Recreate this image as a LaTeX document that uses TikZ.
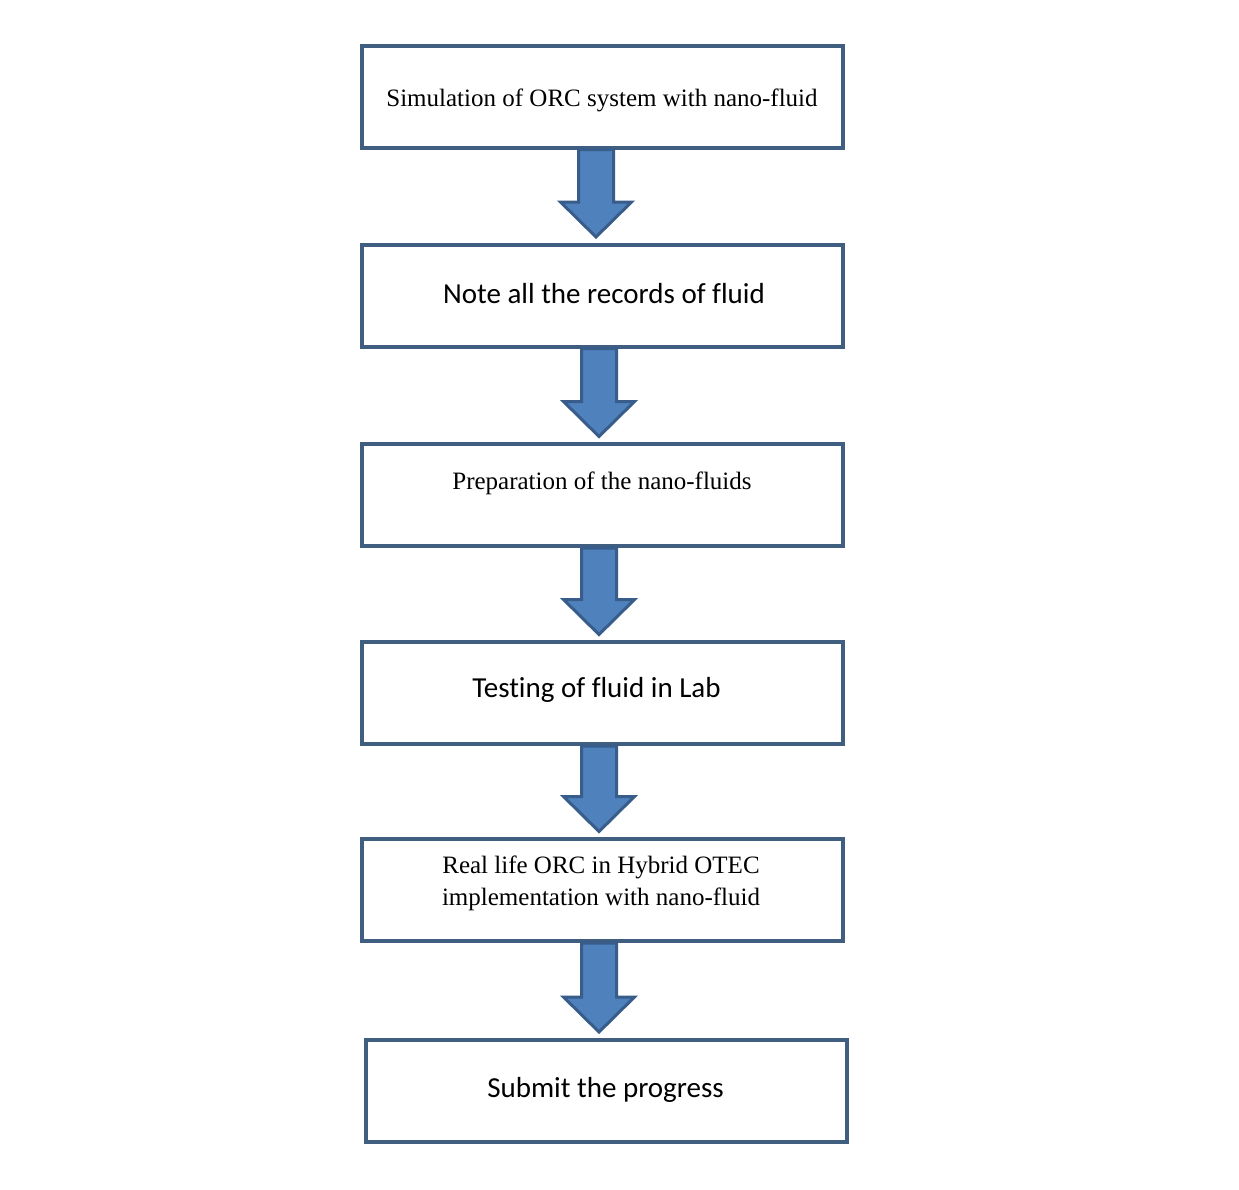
\documentclass[tikz,border=0pt]{standalone}
\usepackage{fontspec}
\usetikzlibrary{calc}
\newfontfamily\serifface[Ligatures={NoCommon,NoRare}]{Liberation Serif}
\newfontfamily\sansface[Ligatures={NoCommon,NoRare}]{Carlito}
\definecolor{boxline}{RGB}{63,94,128}
\definecolor{arrowfill}{RGB}{79,129,189}
\definecolor{arrowline}{RGB}{56,93,138}

% Block arrow between two stacked boxes: #1 upper box, #2 lower box, #3 centre x (pt)
\newcommand{\downblock}[3]{%
  \path[blockarrow] let \p1=(#1.south), \p2=(#2.north) in
    (#3pt-17.5pt,\y1) -- (#3pt-17.5pt,\y2+40.5pt) -- (#3pt-35.5pt,\y2+40.5pt)
    -- (#3pt,\y2+5.5pt) -- (#3pt+35.5pt,\y2+40.5pt) -- (#3pt+17.5pt,\y2+40.5pt)
    -- (#3pt+17.5pt,\y1) -- cycle;}

\tikzset{
  stepbox/.style={draw=boxline, line width=4pt, fill=white, rectangle,
    minimum width=481pt, minimum height=102pt, inner sep=0pt},
  blockarrow/.style={fill=arrowfill, draw=arrowline, line width=3pt, line join=miter},
  serifrm/.style={font=\serifface\fontsize{25}{32}\selectfont, inner sep=0pt, anchor=base},
  sanstxt/.style={font=\sansface\fontsize{29}{35}\selectfont, inner sep=0pt, anchor=base},
}

\begin{document}
\begin{tikzpicture}[x=1pt,y=-1pt]
  \fill[white] (0,0) rectangle (1239,1189);
  \useasboundingbox (0,0) rectangle (1239,1189);

  % process boxes
  \node[stepbox] (b1) at (602,96.5) {};
  \node[stepbox] (b2) at (602,295.5) {};
  \node[stepbox] (b3) at (602,495) {};
  \node[stepbox] (b4) at (602,693) {};
  \node[stepbox] (b5) at (602,890) {};
  \node[stepbox] (b6) at (606.5,1090.5) {};

  % box texts
  \node[serifrm] (t1) at (602,106) {Simulation of ORC system with nano-fluid};
  \node[sanstxt] (t2) at (604,303) {Note all the records of fluid};
  \node[serifrm] (t3) at (602,489) {Preparation of the nano-fluids};
  \node[sanstxt] (t4) at (596.5,697) {Testing of fluid in Lab};
  \node[serifrm] (t5a) at (601,873) {Real life ORC in Hybrid OTEC};
  \node[serifrm] (t5b) at (601,905) {implementation with nano-fluid};
  \node[sanstxt] (t6) at (605.5,1097) {Submit the progress};

  % block arrows
  \downblock{b1}{b2}{596}
  \downblock{b2}{b3}{599}
  \downblock{b3}{b4}{599}
  \downblock{b4}{b5}{599}
  \downblock{b5}{b6}{599}
\end{tikzpicture}
\end{document}
